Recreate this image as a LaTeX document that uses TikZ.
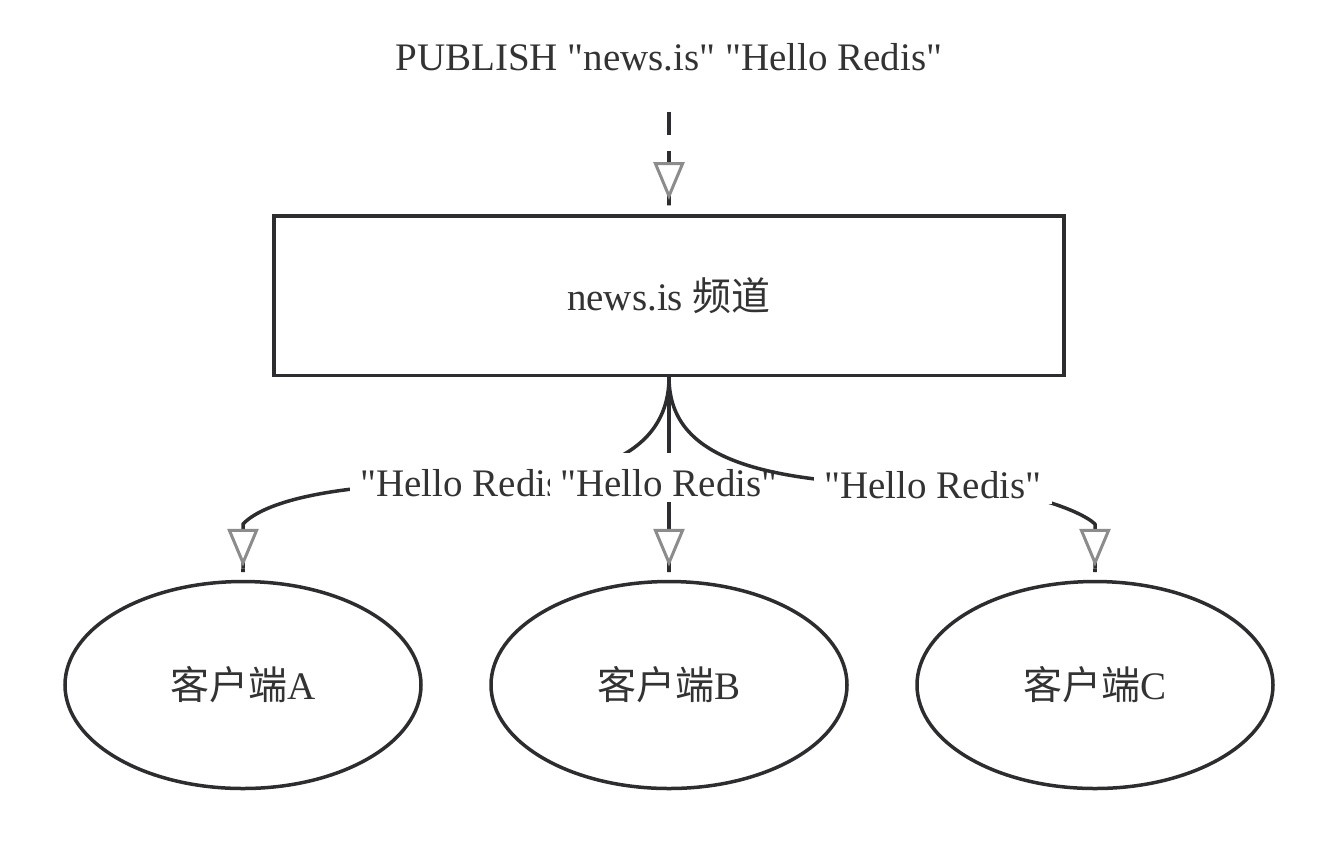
\documentclass[tikz,border=0pt]{standalone}
\usepackage{fontspec}
\setmainfont{Liberation Serif}[Ligatures=TeXOff]
\newfontfamily\cjk{Noto Sans CJK SC}
\usetikzlibrary{arrows.meta,shapes.geometric}
\definecolor{inkc}{RGB}{45,45,48}
\definecolor{tipc}{RGB}{140,140,140}
\definecolor{txtc}{RGB}{51,51,51}

\begin{document}
\begin{tikzpicture}[x=0.5pt,y=-0.5pt,
  every node/.style={font=\fontsize{19.5}{23}\selectfont,text=txtc},
  chan/.style={draw=inkc,line width=1.75pt,minimum width=395pt,
    minimum height=79.75pt,inner sep=0pt},
  client/.style={ellipse,draw=inkc,line width=1.75pt,minimum width=178pt,
    minimum height=103.5pt,inner sep=0pt},
  msg/.style={fill=white,inner xsep=5pt,inner ysep=0pt,text height=21.5pt,
    text depth=3pt,yshift=2.75pt},
  flow/.style={draw=inkc,line width=1.75pt,line join=round,shorten >=3pt,
    -{Triangle[length=19pt,width=15.5pt,line width=1.5pt,color=tipc,fill=white]
      Rectangle[length=3.5pt,width=1.75pt,color=inkc]}},
  pub/.style={flow,dash pattern=on 11.5pt off 8pt,shorten <=17pt,
    shorten >=3.5pt}]
\fill[white] (0,0) rectangle (1338,842);
\useasboundingbox (0,0) rectangle (1338,842);
\node[anchor=base] (publish) at (669,70) {PUBLISH "news.is" "Hello Redis"};
\node[chan] (channel) at (669,295.5) {news.is {\cjk 频道}};
\node[client] (cliA) at (243,685) {{\cjk 客户端}A};
\node[client] (cliB) at (669,685) {{\cjk 客户端}B};
\node[client] (cliC) at (1095,685) {{\cjk 客户端}C};
\coordinate (midA) at (469,483);
\coordinate (midB) at (669,483);
\coordinate (midC) at (933,485);
\coordinate (kneeA) at (243,524);
\coordinate (kneeC) at (1095,524);
\draw[pub] (publish.south) -- (channel.north);
\draw[flow] (channel.south) .. controls +(0,68) and +(141,0) .. (midA)
  .. controls +(-129,0) and +(23,-24) .. (kneeA) -- (cliA.north);
\draw[flow] (channel.south) -- (cliB.north);
\node[msg] (msgA) at (midA) {"Hello Redis"};
\node[msg] (msgB) at (midB) {"Hello Redis"};
% right branch goes over the middle label
\draw[flow] (channel.south) .. controls +(0,73) and +(-193,0) .. (midC)
  .. controls +(87,2) and +(-15,-14) .. (kneeC) -- (cliC.north);
\node[msg] (msgC) at (midC) {"Hello Redis"};
\end{tikzpicture}
\end{document}
